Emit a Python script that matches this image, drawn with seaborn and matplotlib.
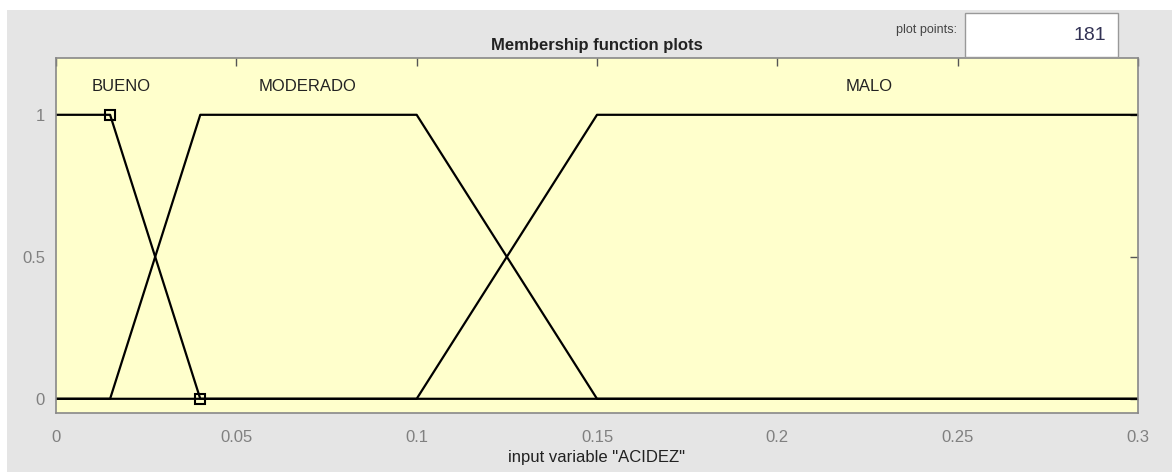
import matplotlib.pyplot as plt
import matplotlib.patches as patches
import numpy as np
import pandas as pd
import seaborn as sns

#%% Membership function breakpoints (input variable "ACIDEZ")
mf_names = ['BUENO', 'MODERADO', 'MALO']
bueno_x = [0, 0.015, 0.04, 0.3]
bueno_y = [1, 1, 0, 0]
moderado_x = [0, 0.015, 0.04, 0.1, 0.15, 0.3]
moderado_y = [0, 0, 1, 1, 0, 0]
malo_x = [0, 0.1, 0.15, 0.3]
malo_y = [0, 0, 1, 1]
label_x = [0.018, 0.0697, 0.2255]
marker_x = [0.015, 0.04]
marker_y = [1, 0]

x_ticks = [0, 0.05, 0.1, 0.15, 0.2, 0.25, 0.3]
x_ticklabels = ['0', '0.05', '0.1', '0.15', '0.2', '0.25', '0.3']
y_ticks = [0, 0.5, 1]
y_ticklabels = ['0', '0.5', '1']
plot_points = 181

frames = []
for name, xs, ys in zip(mf_names, [bueno_x, moderado_x, malo_x], [bueno_y, moderado_y, malo_y]):
    frames.append(pd.DataFrame({'x': xs, 'y': ys, 'mf': name}))
data = pd.concat(frames, ignore_index=True)

#%% Figure
sns.set_style("white")
plt.rcParams['font.family'] = ['Liberation Sans', 'DejaVu Sans']

fig = plt.figure(figsize=(11.72, 4.72), dpi=100, facecolor='white')
W, H = 1172, 472
# gray panel background (behind the axes)
fig.patches.append(patches.Rectangle((7 / W, 0), 1 - 7 / W, 462 / H, transform=fig.transFigure,
                                     facecolor='#e5e5e5', edgecolor='none', zorder=-10))

ax = fig.add_axes([56 / W, (H - 413) / H, (1138 - 56) / W, (413 - 58) / H])
ax.set_facecolor('#ffffcc')

sns.lineplot(data=data, x='x', y='y', units='mf', estimator=None, sort=False,
             color='black', linewidth=1.6, ax=ax, legend=False)
ax.plot(marker_x, marker_y, linestyle='none', marker='s', markersize=7,
        markerfacecolor='none', markeredgecolor='black', markeredgewidth=1.5)

for name, lx in zip(mf_names, label_x):
    ax.text(lx, 1.1, name, ha='center', va='center', fontsize=12, color='#222222')

ax.set_xlim(0, 0.3)
ax.set_ylim(-0.05, 1.2)
ax.set_xticks(x_ticks)
ax.set_xticklabels(x_ticklabels)
ax.set_yticks(y_ticks)
ax.set_yticklabels(y_ticklabels)
ax.tick_params(direction='in', length=6, width=1, color='#555555', labelcolor='#808080',
               labelsize=12, top=True, right=True, pad=8)
ax.tick_params(axis='x', pad=12)
for spine in ax.spines.values():
    spine.set_color('#888888')
    spine.set_linewidth(1.2)

ax.set_xlabel('input variable "ACIDEZ"', fontsize=12, color='#222222', labelpad=4)
ax.set_ylabel('')
ax.set_title('Membership function plots', fontsize=12, fontweight='bold', color='#222222', pad=6)

# plot points box
fig.text(957 / W, 1 - 30 / H, 'plot points:', ha='right', va='center', fontsize=9, color='#444444')
fig.patches.append(patches.Rectangle((965 / W, 1 - 57 / H), (1118 - 965) / W, (57 - 13) / H,
                                     transform=fig.transFigure, facecolor='white',
                                     edgecolor='#999999', linewidth=1, zorder=1))
fig.text(1106 / W, 1 - 35 / H, str(plot_points), ha='right', va='center', fontsize=14,
         color='#333355')

fig.savefig('out.png', dpi=100, facecolor=fig.get_facecolor())
